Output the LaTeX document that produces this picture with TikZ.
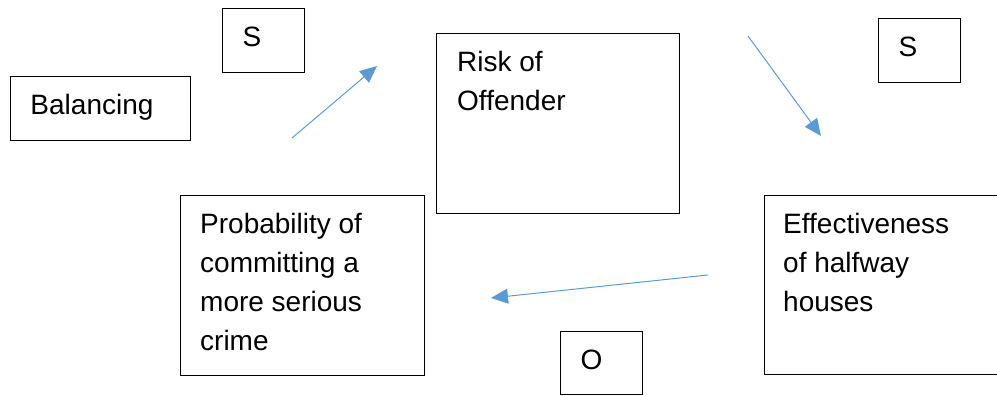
\documentclass[tikz,border=0pt]{standalone}
\usepackage{fontspec}
\setmainfont{Liberation Sans}
\usetikzlibrary{arrows.meta}
\definecolor{arrowblue}{RGB}{91,155,213}

\begin{document}
\begin{tikzpicture}[x=1pt,y=-1pt,
		every node/.style={font=\fontsize{28}{39}\selectfont},
		box/.style={draw=black,line width=1pt,rectangle,anchor=north west,inner sep=0pt},
		tag/.style={box,text width=#1,inner xsep=20pt,align=left,text height=20pt,text depth=8pt},
		txt/.style={anchor=north west,inner sep=0pt,align=left},
		flow/.style={draw=arrowblue,line width=1pt,-{Triangle[length=17pt,width=15pt]}}]
		\useasboundingbox (0,0) rectangle (997,396);
		% small tags
		\node[tag=42pt,minimum height=64pt] (s1) at (222,8) {S};
		\node[tag=140pt,minimum height=64pt] (bal) at (10,76) {Balancing};
		\node[tag=42pt,minimum height=64pt] (s2) at (878,18) {S};
		\node[tag=42pt,minimum height=63pt] (o) at (560,331) {O};
		% main boxes
		\node[box,minimum width=243pt,minimum height=180pt] (risk) at (436,33) {};
		\node[txt] (risktxt) at ([xshift=21pt,yshift=-18pt]risk.north west) {Risk of\\Offender};
		\node[box,minimum width=244pt,minimum height=180pt] (prob) at (180,195) {};
		\node[txt] (probtxt) at ([xshift=20pt,yshift=-18pt]prob.north west) {Probability of\\committing a\\more serious\\crime};
		\node[box,minimum width=250pt,minimum height=179pt] (eff) at (764,195) {};
		\node[txt] (efftxt) at ([xshift=19pt,yshift=-18pt]eff.north west) {Effectiveness\\of halfway\\houses};
		% arrows
		\coordinate (a1s) at (292,138);
		\coordinate (a1e) at (377,66);
		\coordinate (a2s) at (748,36);
		\coordinate (a2e) at (821,136);
		\coordinate (a3s) at (708,275);
		\coordinate (a3e) at (491,298);
		\draw[flow] (a1s) -- (a1e);
		\draw[flow] (a2s) -- (a2e);
		\draw[flow] (a3s) -- (a3e);
\end{tikzpicture}
\end{document}
